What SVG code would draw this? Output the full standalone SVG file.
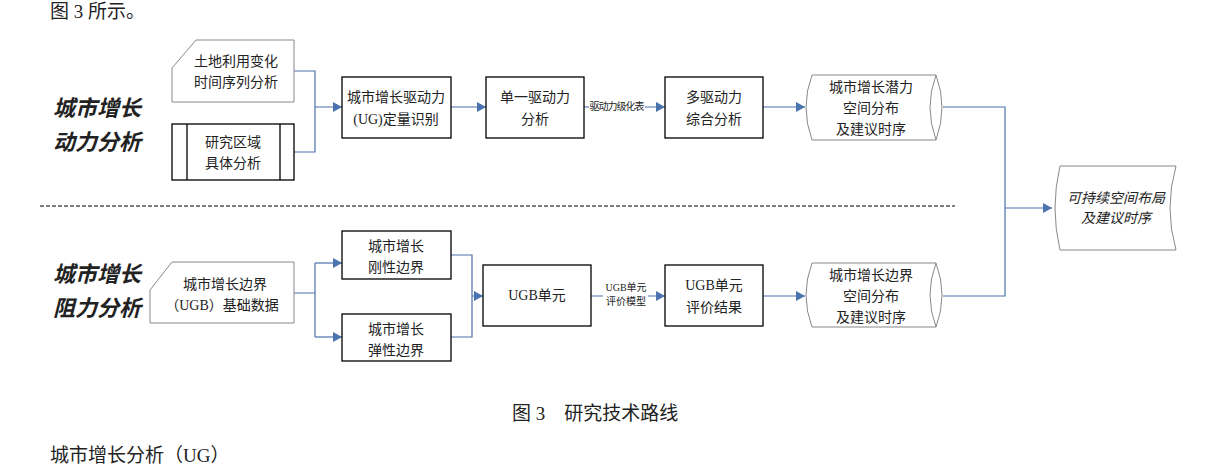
<svg xmlns="http://www.w3.org/2000/svg" width="1214" height="466" viewBox="0 0 1214 466">
<style>
text{font-family:"Liberation Serif","Noto Sans CJK SC",serif;fill:#222;text-anchor:middle}
.n{font-size:14px}
.s{font-size:10px}
.big{font-size:22px;font-style:italic;font-weight:bold;text-anchor:start}
.cap{font-size:19px;text-anchor:start}
.bx{fill:#fff;stroke:#000;stroke-width:1.3}
.gr{fill:#fff;stroke:#888;stroke-width:1}
.c{fill:none;stroke:#4a72ad;stroke-width:1.2}
</style>
<defs><marker id="a" markerWidth="9" markerHeight="10" refX="9" refY="5" orient="auto" markerUnits="userSpaceOnUse"><path d="M0,0L9,5L0,10z" fill="#4a72ad"/></marker></defs>
<rect width="1214" height="466" fill="#fff"/>
<text class="cap" x="50" y="18">图 3 所示。</text>
<text class="big" x="53" y="116">城市增长</text>
<text class="big" x="53" y="150">动力分析</text>
<text class="big" x="53" y="282">城市增长</text>
<text class="big" x="53" y="316">阻力分析</text>
<line x1="40" y1="206" x2="955" y2="206" stroke="#000" stroke-dasharray="4,2"/>
<g id="connectors">
<path class="c" d="M294,71H315V152H294M315,107H342" marker-end="url(#a)"/>
<path class="c" d="M451,107H486" marker-end="url(#a)"/>
<path class="c" d="M584,107H589M645,107H665" marker-end="url(#a)"/>
<path class="c" d="M763,107H805" marker-end="url(#a)"/>
<path class="c" d="M943,107H1005V296H943M1005,208H1052" marker-end="url(#a)"/>
<path class="c" d="M294,293H315M315,263V337"/>
<path class="c" d="M315,263H342" marker-end="url(#a)"/>
<path class="c" d="M315,337H342" marker-end="url(#a)"/>
<path class="c" d="M451,255H472V337H451M472,296H483" marker-end="url(#a)"/>
<path class="c" d="M591,296H603M648,296H665" marker-end="url(#a)"/>
<path class="c" d="M763,296H805" marker-end="url(#a)"/>
<text class="s" x="617" y="110" textLength="55">驱动力级化表</text>
<text class="s" x="626" y="291">UGB单元</text>
<text class="s" x="626" y="305">评价模型</text>
</g>
<g id="n1"><path class="gr" d="M196,40H294V102H172V68Z"/><text class="n" x="236" y="66">土地利用变化</text><text class="n" x="236" y="87">时间序列分析</text></g>
<g id="n2"><rect class="bx" x="172" y="124" width="122" height="56"/><path d="M187,124V180M280,124V180" stroke="#000" stroke-width="1.3"/><text class="n" x="233" y="147">研究区域</text><text class="n" x="233" y="168">具体分析</text></g>
<g id="n3"><rect class="bx" x="342" y="77" width="109" height="61"/><text class="n" x="396" y="102">城市增长驱动力</text><text class="n" x="396" y="124">(UG)定量识别</text></g>
<g id="n4"><rect class="bx" x="486" y="77" width="98" height="61"/><text class="n" x="535" y="102">单一驱动力</text><text class="n" x="535" y="124">分析</text></g>
<g id="n5"><rect class="bx" x="665" y="77" width="98" height="61"/><text class="n" x="714" y="102">多驱动力</text><text class="n" x="714" y="124">综合分析</text></g>
<g id="n6"><path class="gr" d="M812,75H936Q948,107 936,140H812Q800,107 812,75Z"/><path d="M936,75Q924,107 936,140" fill="none" stroke="#888"/><text class="n" x="871" y="92">城市增长潜力</text><text class="n" x="871" y="113">空间分布</text><text class="n" x="871" y="134">及建议时序</text></g>
<g id="n7"><path class="gr" d="M1060,166H1176Q1164,208 1176,250H1060Q1050,208 1060,166Z"/><text class="n" x="1116" y="203" font-style="italic">可持续空间布局</text><text class="n" x="1116" y="223" font-style="italic">及建议时序</text></g>
<g id="n8"><path class="gr" d="M172,262H294V323H150V290Z"/><text class="n" x="225" y="289">城市增长边界</text><text class="n" x="222" y="310">（UGB）基础数据</text></g>
<g id="n9"><rect class="bx" x="342" y="231" width="109" height="48"/><text class="n" x="396" y="251">城市增长</text><text class="n" x="396" y="272">刚性边界</text></g>
<g id="n10"><rect class="bx" x="342" y="314" width="109" height="47"/><text class="n" x="396" y="334">城市增长</text><text class="n" x="396" y="355">弹性边界</text></g>
<g id="n11"><rect class="bx" x="483" y="265" width="108" height="61"/><text class="n" x="537" y="300">UGB单元</text></g>
<g id="n12"><rect class="bx" x="665" y="265" width="98" height="61"/><text class="n" x="714" y="290">UGB单元</text><text class="n" x="714" y="312">评价结果</text></g>
<g id="n13"><path class="gr" d="M812,263H936Q948,295 936,327H812Q800,295 812,263Z"/><path d="M936,263Q924,295 936,327" fill="none" stroke="#888"/><text class="n" x="871" y="280">城市增长边界</text><text class="n" x="871" y="301">空间分布</text><text class="n" x="871" y="322">及建议时序</text></g>
<text class="cap" x="512" y="420">图 3　研究技术路线</text>
<text class="cap" x="50" y="462">城市增长分析（UG）</text>
</svg>
